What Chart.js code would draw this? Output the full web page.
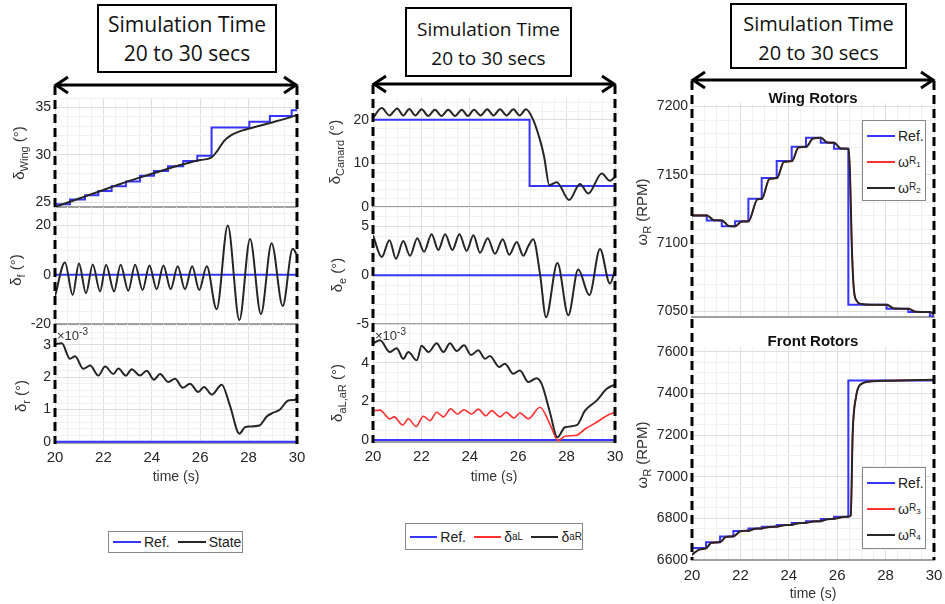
<!DOCTYPE html>
<html>
<head>
<meta charset="utf-8">
<script src="https://cdn.jsdelivr.net/npm/chart.js@4.4.0/dist/chart.umd.min.js"></script>
<style>
  body { margin: 0; background: #fff; font-family: "Liberation Sans", Arial, sans-serif; }
  #page { position: relative; width: 945px; height: 604px; overflow: hidden; background: #fff; }
  canvas { position: absolute; }
  .box { position: absolute; border: 2px solid #000; background: #fff; box-sizing: border-box;
         font-family: "Open Sans", sans-serif; font-size: 20px; color: #111; text-align: center; line-height: 29px; padding-top: 4px; }
  .ylab { position: absolute; transform: translate(-50%, -50%) rotate(-90deg); white-space: nowrap; font-size: 15px; color: #333; }
  .ylab sub { font-size: 11px; }
  .xlab { position: absolute; transform: translate(-50%, -50%); font-size: 14px; color: #333; white-space: nowrap; }
  .ttl { position: absolute; transform: translate(-50%, -50%); font-size: 15px; font-weight: bold; color: #111; white-space: nowrap; }
  .exp { position: absolute; font-size: 13px; color: #333; }
  .exp sup { font-size: 10px; }
  .lg { position: absolute; background: #fff; border: 1px solid #888; box-sizing: border-box; font-size: 14px; color: #222; }
  .row { display: flex; align-items: center; white-space: nowrap; }
  .sw { display: inline-block; width: 28px; border-top: 2px solid; margin: 0 3px 0 4px; }
  .lg sub { font-size: 10px; vertical-align: -4px; line-height: 1; }
  .lg sub sub { font-size: 8px; vertical-align: -3px; }
</style>
</head>
<body>
<div id="page">
  <div id="plots"></div>

  <svg width="945" height="604" style="position:absolute;left:0;top:0">
    <g stroke="#000" stroke-width="3" fill="none">
      <line x1="56" y1="85" x2="296" y2="85"/>
      <polyline points="68,77 56,85 68,93"/>
      <polyline points="284,77 296,85 284,93"/>
      <line x1="374" y1="84" x2="614" y2="84"/>
      <polyline points="386,76 374,84 386,92"/>
      <polyline points="602,76 614,84 602,92"/>
      <line x1="693" y1="80" x2="933" y2="80"/>
      <polyline points="705,72 693,80 705,88"/>
      <polyline points="921,72 933,80 921,88"/>
    </g>
    <g stroke="#000" stroke-width="3" stroke-dasharray="9 5">
      <line x1="55" y1="86" x2="55" y2="444"/>
      <line x1="297" y1="86" x2="297" y2="444"/>
      <line x1="373" y1="85" x2="373" y2="443"/>
      <line x1="615" y1="85" x2="615" y2="443"/>
      <line x1="692" y1="81" x2="692" y2="560"/>
      <line x1="934" y1="81" x2="934" y2="560"/>
    </g>
  </svg>

  <div class="box" style="left:97px;top:4px;width:180px;height:69px;font-size:21px">Simulation Time<br>20 to 30 secs</div>
  <div class="box" style="left:405px;top:7px;width:167px;height:70px;font-size:19px;padding-top:6px">Simulation Time<br>20 to 30 secs</div>
  <div class="box" style="left:730px;top:3px;width:177px;height:66px">Simulation Time<br>20 to 30 secs</div>

  <div class="ylab" style="left:20px;top:153px">δ<sub>Wing</sub> (°)</div>
  <div class="ylab" style="left:17px;top:270px">δ<sub>f</sub> (°)</div>
  <div class="ylab" style="left:22px;top:396px">δ<sub>r</sub> (°)</div>
  <div class="ylab" style="left:336px;top:152px">δ<sub>Canard</sub> (°)</div>
  <div class="ylab" style="left:338px;top:275px">δ<sub>e</sub> (°)</div>
  <div class="ylab" style="left:338px;top:393px">δ<sub>aL,aR</sub> (°)</div>
  <div class="ylab" style="left:643px;top:212px">ω<sub>R</sub> (RPM)</div>
  <div class="ylab" style="left:643px;top:455px">ω<sub>R</sub> (RPM)</div>

  <div class="exp" style="left:57px;top:326px">×10<sup>-3</sup></div>
  <div class="exp" style="left:375px;top:326px">×10<sup>-3</sup></div>

  <div class="xlab" style="left:176px;top:476px">time (s)</div>
  <div class="xlab" style="left:494px;top:476px">time (s)</div>
  <div class="xlab" style="left:813px;top:593px">time (s)</div>

  <div class="ttl" style="left:813px;top:97px">Wing Rotors</div>
  <div class="ttl" style="left:813px;top:340px">Front Rotors</div>

  <div class="lg" style="left:108px;top:531px;width:135px;height:22px">
    <div class="row" style="height:20px"><span class="sw" style="border-color:#3535ff"></span>Ref.<span class="sw" style="border-color:#262626;margin-left:8px"></span>State</div>
  </div>
  <div class="lg" style="left:405px;top:523px;width:178px;height:27px">
    <div class="row" style="height:25px"><span class="sw" style="border-color:#3535ff"></span>Ref.<span class="sw" style="border-color:#ff3030;margin-left:8px"></span>δ<sub>aL</sub><span class="sw" style="border-color:#262626;margin-left:8px"></span>δ<sub>aR</sub></div>
  </div>
  <div class="lg" style="left:862px;top:120px;width:64px;height:81px;padding-top:2px">
    <div class="row" style="height:26px"><span class="sw" style="border-color:#3535ff"></span>Ref.</div>
    <div class="row" style="height:26px"><span class="sw" style="border-color:#ff3030"></span>ω<sub>R<sub>1</sub></sub></div>
    <div class="row" style="height:26px"><span class="sw" style="border-color:#262626"></span>ω<sub>R<sub>2</sub></sub></div>
  </div>
  <div class="lg" style="left:862px;top:467px;width:64px;height:82px;padding-top:2px">
    <div class="row" style="height:26px"><span class="sw" style="border-color:#3535ff"></span>Ref.</div>
    <div class="row" style="height:26px"><span class="sw" style="border-color:#ff3030"></span>ω<sub>R<sub>3</sub></sub></div>
    <div class="row" style="height:26px"><span class="sw" style="border-color:#262626"></span>ω<sub>R<sub>4</sub></sub></div>
  </div>
</div>

<script>
'use strict';
// time axis (s)
var timeTicks = [20, 22, 24, 26, 28, 30];
var zeroT = [20, 30];
var zeroV = [0, 0];

// wing incidence
var wingRefT = [20, 20.62, 21.24, 21.79, 22.34, 22.93, 23.51, 24.09, 24.67, 25.30, 25.88, 26.47, 28.03, 28.88, 29.78, 30];
var wingRefV = [24.8, 25.3, 25.75, 26.2, 26.7, 27.2, 27.8, 28.3, 28.8, 29.35, 29.9, 32.9, 33.5, 34.1, 34.7, 34.7];
var wingT = [20, 20.5, 21, 21.5, 22, 22.5, 23, 23.5, 24, 24.5, 25, 25.5, 26, 26.45, 26.7, 27, 27.3, 27.6, 28, 28.5, 29, 29.5, 30];
var wingV = [24.5, 24.95, 25.4, 25.85, 26.3, 26.75, 27.2, 27.6, 28.0, 28.4, 28.8, 29.15, 29.45, 29.7, 30.4, 31.5, 32.1, 32.45, 32.75, 33.1, 33.45, 33.8, 34.2];

// flap
var flapT = [20, 20.41, 20.73, 20.99, 21.28, 21.56, 21.86, 22.11, 22.44, 22.71, 23.03, 23.31, 23.62, 23.90, 24.20, 24.48, 24.78, 25.07, 25.37, 25.67, 25.96, 26.27, 26.68, 27.14, 27.62, 28.06, 28.51, 28.95, 29.41, 29.82, 30];
var flapV = [-8.8, 5.0, -8.2, 4.6, -7.5, 4.2, -6.8, 4.1, -6.8, 4.1, -6.5, 4.1, -6.2, 3.8, -5.9, 3.8, -5.9, 3.4, -5.9, 3.4, -6.2, 3.4, -14, 20, -18.4, 14.5, -16, 12.8, -12.7, 10.5, 8];

// rudder (x1e-3)
var rudT = [20, 20.28, 20.62, 20.83, 21.17, 21.45, 21.79, 22.07, 22.41, 22.62, 22.93, 23.17, 23.51, 23.79, 24.09, 24.34, 24.68, 24.96, 25.28, 25.58, 25.92, 26.16, 26.48, 26.89, 27.23, 27.62, 27.85, 28.03, 28.44, 28.75, 29.02, 29.30, 29.64, 29.92, 30];
var rudV = [3.03, 3.05, 2.57, 2.65, 2.26, 2.36, 2.05, 2.33, 2.1, 2.27, 2.05, 2.25, 2.05, 2.2, 1.92, 2.1, 1.85, 1.95, 1.67, 1.8, 1.54, 1.7, 1.46, 1.77, 1.12, 0.25, 0.45, 0.47, 0.5, 0.78, 0.9, 1.0, 1.28, 1.3, 1.35];

// canard
var canRefT = [20, 26.47, 30];
var canRefV = [20, 4.8, 4.8];
var canT = [20, 20.36, 20.68, 21.0, 21.25, 21.5, 21.75, 22.01, 22.28, 22.56, 22.83, 23.11, 23.39, 23.67, 23.92, 24.17, 24.45, 24.72, 24.98, 25.25, 25.52, 25.80, 26.06, 26.32, 26.62, 26.90, 27.07, 27.29, 27.59, 28.11, 28.55, 28.90, 29.45, 29.79, 30];
var canV = [20.4, 22.7, 21.0, 22.6, 21.0, 22.5, 21.0, 22.4, 20.9, 22.3, 20.9, 22.3, 20.9, 22.3, 20.9, 22.3, 21.0, 22.4, 21.0, 22.4, 21.0, 22.4, 21.0, 22.4, 20.0, 15.4, 11.6, 5.0, 5.7, 1.6, 5.3, 3.1, 7.7, 6.0, 6.9];

// elevator
var elevT = [20, 20.36, 20.68, 20.95, 21.25, 21.53, 21.83, 22.11, 22.42, 22.70, 22.98, 23.28, 23.57, 23.87, 24.15, 24.42, 24.74, 25.04, 25.36, 25.63, 25.94, 26.21, 26.42, 26.62, 26.90, 27.15, 27.62, 28.07, 28.48, 28.94, 29.38, 29.79, 30];
var elevV = [4.1, 1.87, 3.6, 1.7, 3.5, 2.0, 3.8, 2.4, 4.2, 2.6, 4.2, 2.6, 4.2, 2.5, 4.1, 2.3, 3.8, 2.2, 3.7, 2.1, 3.4, 2.0, 3.0, 3.7, 0.17, -4.3, 1.26, -4.1, 0.58, -2.04, 2.7, -0.85, 0.5];

// ailerons (x1e-3)
var aLT = [20, 20.29, 20.70, 20.87, 21.23, 21.46, 21.78, 22.08, 22.36, 22.63, 22.91, 23.21, 23.49, 23.76, 24.08, 24.35, 24.66, 24.90, 25.25, 25.50, 25.83, 26.07, 26.42, 26.90, 27.31, 27.66, 27.93, 28.42, 28.76, 29.24, 29.66, 30];
var aLV = [1.52, 1.55, 1.09, 1.2, 0.78, 1.1, 0.7, 1.23, 1.0, 1.44, 1.2, 1.61, 1.35, 1.57, 1.35, 1.6, 1.26, 1.52, 1.2, 1.44, 1.14, 1.4, 1.1, 1.7, 0.83, -0.03, 0.2, 0.25, 0.57, 0.92, 1.26, 1.44];
var aRT = [20, 20.29, 20.70, 20.98, 21.25, 21.46, 21.81, 22.01, 22.29, 22.63, 22.91, 23.18, 23.46, 23.76, 24.05, 24.35, 24.63, 24.83, 25.22, 25.45, 25.80, 26.07, 26.42, 26.76, 26.97, 27.31, 27.62, 27.93, 28.42, 28.76, 29.24, 29.66, 30];
var aRV = [4.99, 5.16, 4.55, 4.75, 4.2, 4.55, 4.12, 4.87, 4.55, 5.0, 4.55, 5.0, 4.6, 4.9, 4.4, 4.64, 4.2, 4.35, 3.78, 3.95, 3.43, 3.6, 3.0, 3.2, 2.9, 1.44, 0.14, 0.66, 0.77, 1.52, 2.04, 2.65, 2.87];

// wing rotors (RPM)
var wRefT = [20, 20.61, 21.23, 21.78, 22.33, 22.88, 23.50, 24.12, 24.71, 25.32, 25.87, 26.46, 28.04, 28.94, 29.83, 30];
var wRefV = [7120.3, 7116.6, 7112.4, 7116.1, 7132.5, 7147.6, 7160, 7170.5, 7177, 7173.4, 7169, 7055, 7052, 7049.6, 7046.5, 7046.5];
var wT = [20, 20.62, 20.9, 21.24, 21.52, 21.79, 22.05, 22.34, 22.7, 22.89, 23.2, 23.51, 23.8, 24.13, 24.4, 24.72, 25.0, 25.33, 25.6, 25.88, 26.15, 26.47, 26.53, 26.6, 26.68, 26.8, 27.0, 27.4, 28.05, 28.35, 28.95, 29.25, 29.84, 30];
var wV = [7120.3, 7120.3, 7116.8, 7116.6, 7112.6, 7112.4, 7115.8, 7116.1, 7132, 7132.5, 7147, 7147.6, 7159.5, 7160, 7170, 7170.5, 7176.5, 7177, 7173.6, 7173.4, 7169.2, 7169, 7150, 7100, 7068, 7058, 7055.5, 7055, 7055, 7052.2, 7052, 7049.8, 7049.6, 7047.5];

// front rotors (RPM)
var fRefT = [20, 20.58, 21.16, 21.71, 22.33, 22.88, 23.50, 24.12, 24.71, 25.32, 25.87, 26.46, 30];
var fRefV = [6658, 6685, 6713, 6740, 6751, 6760, 6768, 6778, 6786, 6797, 6808, 7463, 7463];
var fT = [20, 20.3, 20.58, 20.8, 21.16, 21.4, 21.72, 22.0, 22.34, 22.6, 22.89, 23.2, 23.51, 23.8, 24.13, 24.4, 24.72, 25.0, 25.33, 25.6, 25.88, 26.2, 26.48, 26.56, 26.64, 26.78, 26.94, 27.36, 28, 29, 30];
var fV = [6625, 6650, 6656, 6683, 6686, 6711, 6714, 6738, 6741, 6750, 6752, 6759, 6761, 6767, 6769, 6777, 6779, 6785, 6787, 6796, 6798, 6806, 6809, 6815, 7210, 7385, 7441, 7458, 7462, 7464, 7466];

var REF = '#3535ff', RED = '#ff3030', BLK = '#262626';
Chart.defaults.font.family = '"Liberation Sans", Arial, sans-serif';
Chart.defaults.color = '#262626';

function pts(t, v) {
  return t.map(function(x, i) { return {x: x, y: v[i]}; });
}
function ref(t, v) {
  return {data: pts(t, v), borderColor: REF, borderWidth: 2, stepped: true};
}
function state(t, v, c) {
  return {data: pts(t, v), borderColor: c || BLK, borderWidth: c ? 1.6 : 2, cubicInterpolationMode: 'monotone'};
}
function near(v, step) {
  return Math.abs(v / step - Math.round(v / step)) < 1e-6;
}

var YW = 50, PAD = 10, XH = 34;

function plot(area, y, datasets, bottom) {
  var cv = document.createElement('canvas');
  cv.width = area.r - area.l + YW + PAD;
  cv.height = area.b - area.t + PAD + (bottom ? XH : PAD);
  cv.style.left = (area.l - YW) + 'px';
  cv.style.top = (area.t - PAD) + 'px';
  document.getElementById('plots').appendChild(cv);
  new Chart(cv, {
    type: 'line',
    data: {datasets: datasets},
    options: {
      responsive: false,
      animation: false,
      layout: {padding: {left: 0, right: PAD, top: PAD, bottom: bottom ? 0 : PAD}},
      plugins: {legend: {display: false}, tooltip: {enabled: false}},
      elements: {point: {radius: 0}, line: {borderCapStyle: 'butt'}},
      scales: {
        x: {
          type: 'linear', min: 20, max: 30,
          afterFit: function(s) { s.height = bottom ? XH : 0; s.paddingLeft = s.paddingRight = 0; },
          border: {display: true, color: '#a0a0a0', width: 2},
          grid: {drawTicks: false, color: function(c) { return near(c.tick.value, 2) ? '#dedede' : '#f0f0f0'; }},
          ticks: {
            display: bottom, stepSize: 0.5, autoSkip: false, maxRotation: 0, includeBounds: false,
            padding: area.b > 500 ? 7 : 6, font: {size: 15},
            callback: function(v) { return timeTicks.indexOf(v) >= 0 ? String(v) : ''; }
          }
        },
        y: {
          min: y.min, max: y.max,
          afterFit: function(s) { s.width = YW; s.paddingTop = s.paddingBottom = 0; },
          border: {display: false},
          grid: {drawTicks: false, color: function(c) { return near(c.tick.value, y.minor * y.top) ? '#dedede' : '#f0f0f0'; }},
          ticks: {
            stepSize: y.minor, autoSkip: false, includeBounds: false, padding: 4, font: {size: 14},
            callback: function(v) { return near(v, y.major) && v <= y.last ? String(Math.round(v)) : ''; }
          }
        }
      }
    }
  });
}

var colL = {l: 55, r: 297}, colM = {l: 373, r: 615}, colR = {l: 692, r: 934};
function at(col, t, b) { return {l: col.l, r: col.r, t: t, b: b}; }
function yax(min, max, major, minor, last) {
  return {min: min, max: max, major: major, minor: minor, top: major / minor, last: last};
}

plot(at(colL, 98, 207), yax(24.5, 36, 5, 1, 35),
  [state(wingT, wingV), ref(wingRefT, wingRefV)], false);
plot(at(colL, 207, 324), yax(-20, 27.5, 20, 5, 20),
  [state(flapT, flapV), ref(zeroT, zeroV)], false);
plot(at(colL, 324, 443), yax(-0.04, 3.65, 1, 0.2, 3),
  [state(rudT, rudV), ref(zeroT, zeroV)], true);

plot(at(colM, 98, 207), yax(0, 25, 10, 2, 20),
  [state(canT, canV), ref(canRefT, canRefV)], false);
plot(at(colM, 207, 324), yax(-5, 7, 5, 1, 5),
  [state(elevT, elevV), ref(zeroT, zeroV)], false);
plot(at(colM, 324, 442), yax(-0.1, 6, 2, 0.5, 4),
  [state(aRT, aRV), state(aLT, aLV, RED), ref(zeroT, zeroV)], true);

plot(at(colR, 103, 317), yax(7046, 7202.5, 50, 10, 7200),
  [state(wT, wV), state(wT, wV, RED), ref(wRefT, wRefV)], false);
plot(at(colR, 347, 560), yax(6600, 7624, 200, 50, 7600),
  [state(fT, fV), state(fT, fV, RED), ref(fRefT, fRefV)], true);
</script>
</body>
</html>
